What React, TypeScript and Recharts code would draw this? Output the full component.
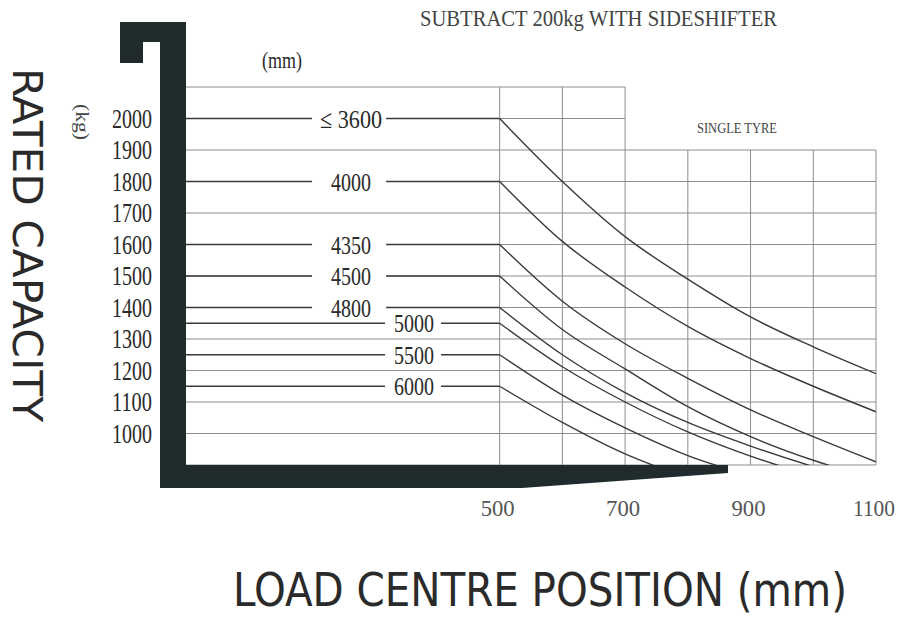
import React from 'react'
import { LineChart, Line, XAxis, YAxis, ReferenceLine, ReferenceDot } from 'recharts'

// load centre (mm) where each capacity curve is read
const loadCentres = [500, 600, 700, 800, 900, 1000, 1100]

// lifting heights (mm), one per curve
const liftHeights = ['≤ 3600', '4000', '4350', '4500', '4800', '5000', '5500', '6000']

// rated capacity (kg) at each load centre, per lifting height
const cap3600 = [2000, 1800, 1625, 1490, 1370, 1275, 1190]
const cap4000 = [1800, 1610, 1465, 1340, 1238, 1150, 1069]
const cap4350 = [1600, 1420, 1285, 1175, 1075, 990, 910]
const cap4500 = [1500, 1330, 1205, 1085, 990, 915, 855]
const cap4800 = [1400, 1250, 1130, 1035, 960, 895, 840]
const cap5000 = [1350, 1212, 1100, 1005, 928, 865, 810]
const cap5500 = [1250, 1122, 1018, 930, 865, 805, 755]
const cap6000 = [1150, 1035, 935, 860, 800, 745, 700]

const capacityCurves = [cap3600, cap4000, cap4350, cap4500, cap4800, cap5000, cap5500, cap6000]

const capacityTicks = [1000, 1100, 1200, 1300, 1400, 1500, 1600, 1700, 1800, 1900, 2000]
const positionTicks = [500, 700, 900, 1100]
const gridRows = [900, 1000, 1100, 1200, 1300, 1400, 1500, 1600, 1700, 1800, 1900, 2000, 2100]
const gridCols = [500, 600, 700, 800, 900, 1000, 1100]

const TEXT = '#2a2a2a'
const LINE = '#3a3a3a'
const GRID = '#8e8e8e'
const FORK = '#1f2b2d'
const SERIF = '"Liberation Serif", "DejaVu Serif", serif'
const NARROW = '"Liberation Sans Narrow", "DejaVu Sans Condensed", "Liberation Sans", sans-serif'

const CapacityTick = (props: any) => {
  const { x, y, payload } = props
  return (
    <text x={x - 26} y={y + 9} textAnchor="end" fontFamily={SERIF} fontSize={27} fill={TEXT}
      textLength={40} lengthAdjust="spacingAndGlyphs">
      {payload.value}
    </text>
  )
}

const PositionTick = (props: any) => {
  const { x, y, payload } = props
  const s = String(payload.value)
  return (
    <text x={x - 2} y={y + 43} textAnchor="middle" fontFamily={SERIF} fontSize={23} fill="#555"
      textLength={s.length > 3 ? 42 : 34} lengthAdjust="spacingAndGlyphs">
      {s}
    </text>
  )
}

const heightLabel = (text: string, wide: boolean) => (props: any) => {
  const { cx, cy } = props
  const w = wide ? 74 : 56
  return (
    <g>
      <rect x={cx - w / 2} y={cy - 12} width={w} height={24} fill="#fff" />
      <text x={cx + (wide ? 2 : 1)} y={cy + 9} textAnchor="middle" fontFamily={SERIF} fontSize={26} fill={TEXT}
        textLength={text.length * 10 + (text.length > 4 ? 2 : 0)} lengthAdjust="spacingAndGlyphs">
        {text}
      </text>
    </g>
  )
}

export default function App() {
  return (
    <div style={{ position: 'absolute', left: 0, top: 0, width: 903, height: 617, background: '#fff' }}>
      <LineChart width={903} height={617} margin={{ top: 87, right: 27, left: 126, bottom: 122 }}>
        <XAxis dataKey="x" type="number" domain={[0, 1100]} ticks={positionTicks} allowDataOverflow
          axisLine={false} tickLine={false} height={30} tick={PositionTick} interval={0} />
        <YAxis type="number" domain={[900, 2100]} ticks={capacityTicks} allowDataOverflow
          axisLine={false} tickLine={false} width={60} tick={CapacityTick} interval={0} />
        {gridRows.map((v) => (
          <ReferenceLine key={'r' + v} segment={[{ x: 0, y: v }, { x: v >= 2000 ? 700 : 1100, y: v }]}
            stroke={GRID} strokeWidth={1} ifOverflow="visible" />
        ))}
        {gridCols.map((v) => (
          <ReferenceLine key={'c' + v} segment={[{ x: v, y: 900 }, { x: v, y: v <= 700 ? 2100 : 1900 }]}
            stroke={GRID} strokeWidth={1} ifOverflow="visible" />
        ))}
        {capacityCurves.map((caps, i) => (
          <Line key={'f' + i} data={[{ x: 0, y: caps[0] }, { x: 500, y: caps[0] }]} dataKey="y" type="linear"
            stroke={LINE} strokeWidth={1.4} dot={false} isAnimationActive={false} />
        ))}
        {capacityCurves.map((caps, i) => (
          <Line key={'c' + i} data={loadCentres.map((x, j) => ({ x, y: caps[j] }))} dataKey="y" type="monotone"
            stroke={LINE} strokeWidth={1.4} dot={false} isAnimationActive={false} />
        ))}
        {capacityCurves.map((caps, i) => (
          <ReferenceDot key={'l' + i} x={i < 5 ? 260 : 362} y={caps[0]} r={0}
            shape={heightLabel(liftHeights[i], i < 5)} ifOverflow="visible" />
        ))}
      </LineChart>
      <svg width={903} height={617} style={{ position: 'absolute', left: 0, top: 0, pointerEvents: 'none' }}>
        <path d="M120 22 H186 V465 H728 V473 L522 488 H160 V42 H143 V63 H120 Z" fill={FORK} />
        <text x={420} y={26} fontFamily={SERIF} fontSize={24} fill="#444" textLength={357} lengthAdjust="spacingAndGlyphs">
          SUBTRACT 200kg WITH SIDESHIFTER
        </text>
        <text x={262} y={68} fontFamily={SERIF} fontSize={23} fill={TEXT} textLength={40} lengthAdjust="spacingAndGlyphs">
          (mm)
        </text>
        <text x={697} y={133} fontFamily={SERIF} fontSize={15} fill="#444" textLength={80} lengthAdjust="spacingAndGlyphs">
          SINGLE TYRE
        </text>
        <text transform="translate(76 122) rotate(90)" textAnchor="middle" fontFamily={SERIF} fontSize={19} fill="#444"
          textLength={36} lengthAdjust="spacingAndGlyphs">
          (kg)
        </text>
        <text transform="translate(13 245) rotate(90)" textAnchor="middle" fontFamily={NARROW} fontSize={40} fill={TEXT}
          textLength={354} lengthAdjust="spacingAndGlyphs">
          RATED CAPACITY
        </text>
        <text x={540} y={606} textAnchor="middle" fontFamily={NARROW} fontSize={46} fill={TEXT}
          textLength={614} lengthAdjust="spacingAndGlyphs">
          LOAD CENTRE POSITION (mm)
        </text>
      </svg>
    </div>
  )
}
